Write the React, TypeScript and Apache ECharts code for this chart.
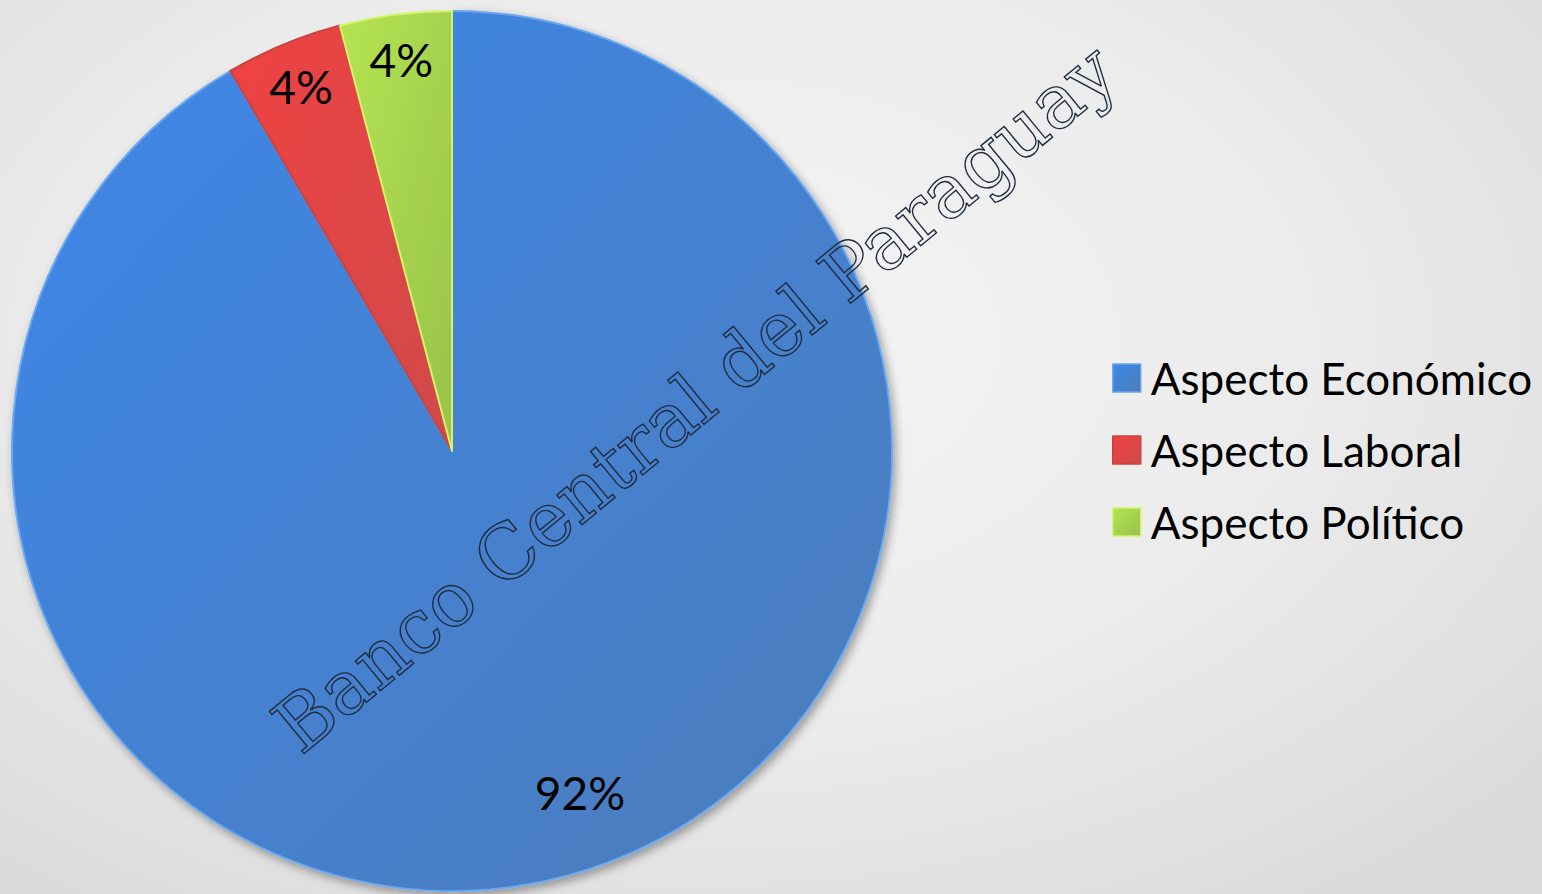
import React, { useEffect, useRef } from "react";
import * as echarts from "echarts";

const categories = ["Aspecto Económico", "Aspecto Laboral", "Aspecto Político"];
const values = [91.6, 4.3, 4.1];
const watermarkText = "Banco Central del Paraguay";

const gradients = [
  ["#3d87ea", "#4c7cb9"],
  ["#f04242", "#cf4a4a"],
  ["#b4e452", "#98c24a"],
];
const borders = ["#6aa8f0", "#c94343", "#d6f46a"];

export default function App() {
  const ref = useRef<HTMLDivElement>(null);

  useEffect(() => {
    document.body.style.margin = "0";
    const chart = echarts.init(ref.current!, null, { renderer: "svg" });
    const grad = (i: number) =>
      new echarts.graphic.LinearGradient(0, 0, 1, 1, [
        { offset: 0, color: gradients[i][0] },
        { offset: 1, color: gradients[i][1] },
      ]);
    const font = "Lato, 'Open Sans', sans-serif";

    const mainData = categories.map((name, i) => ({
      name,
      value: values[i],
      itemStyle: {
        color: grad(i),
        borderColor: borders[i],
        borderWidth: 2,
        ...(i === 0
          ? { shadowBlur: 10, shadowOffsetX: 3, shadowOffsetY: 4, shadowColor: "rgba(0,0,0,0.35)" }
          : {}),
      },
    }));
    const labelData = categories.map((name, i) => ({
      name,
      value: values[i],
      label: i === 0 ? { offset: [25, -39] } : {},
    }));

    chart.setOption({
      animation: false,
      legend: {
        orient: "vertical",
        left: 1112,
        top: 356,
        padding: 0,
        itemWidth: 28,
        itemHeight: 28,
        itemGap: 28,
        icon: "rect",
        selectedMode: false,
        textStyle: { fontFamily: font, fontSize: 44, color: "#000", lineHeight: 44, padding: [0, 0, 0, 5] },
        data: categories.map((name, i) => ({
          name,
          itemStyle: { color: grad(i), borderColor: borders[i], borderWidth: 1.5 },
        })),
      },
      graphic: [
        {
          type: "text",
          x: 695,
          y: 398,
          rotation: (39.5 * Math.PI) / 180,
          z: 100,
          silent: true,
          style: {
            text: watermarkText,
            font: "75px 'DejaVu Serif', serif",
            fill: "rgba(0,0,0,0)",
            stroke: "#1f2a3e",
            lineWidth: 1.4,
            align: "center",
            verticalAlign: "middle",
            shadowBlur: 3,
            shadowOffsetX: 1,
            shadowOffsetY: 2,
            shadowColor: "rgba(0,0,0,0.25)",
          },
        },
      ],
      series: [
        {
          type: "pie",
          center: [452, 451],
          radius: [0, 440],
          startAngle: 90,
          clockwise: true,
          label: { show: false },
          labelLine: { show: false },
          silent: true,
          data: mainData,
        },
        {
          type: "pie",
          center: [452, 451],
          radius: [343, 440],
          startAngle: 90,
          clockwise: true,
          silent: true,
          z: 3,
          itemStyle: { color: "rgba(0,0,0,0)" },
          label: {
            show: true,
            position: "inside",
            fontFamily: font,
            fontSize: 46,
            color: "#000",
            formatter: (p: any) => Math.round(p.percent) + "%",
          },
          labelLine: { show: false },
          data: labelData,
        },
      ],
    });
    return () => chart.dispose();
  }, []);

  return (
    <div
      ref={ref}
      style={{
        width: 1542,
        height: 894,
        background:
          "radial-gradient(ellipse 75% 80% at 45% 38%, #f5f5f5 0%, #ebebeb 55%, #d9d9d9 100%)",
      }}
    />
  );
}
